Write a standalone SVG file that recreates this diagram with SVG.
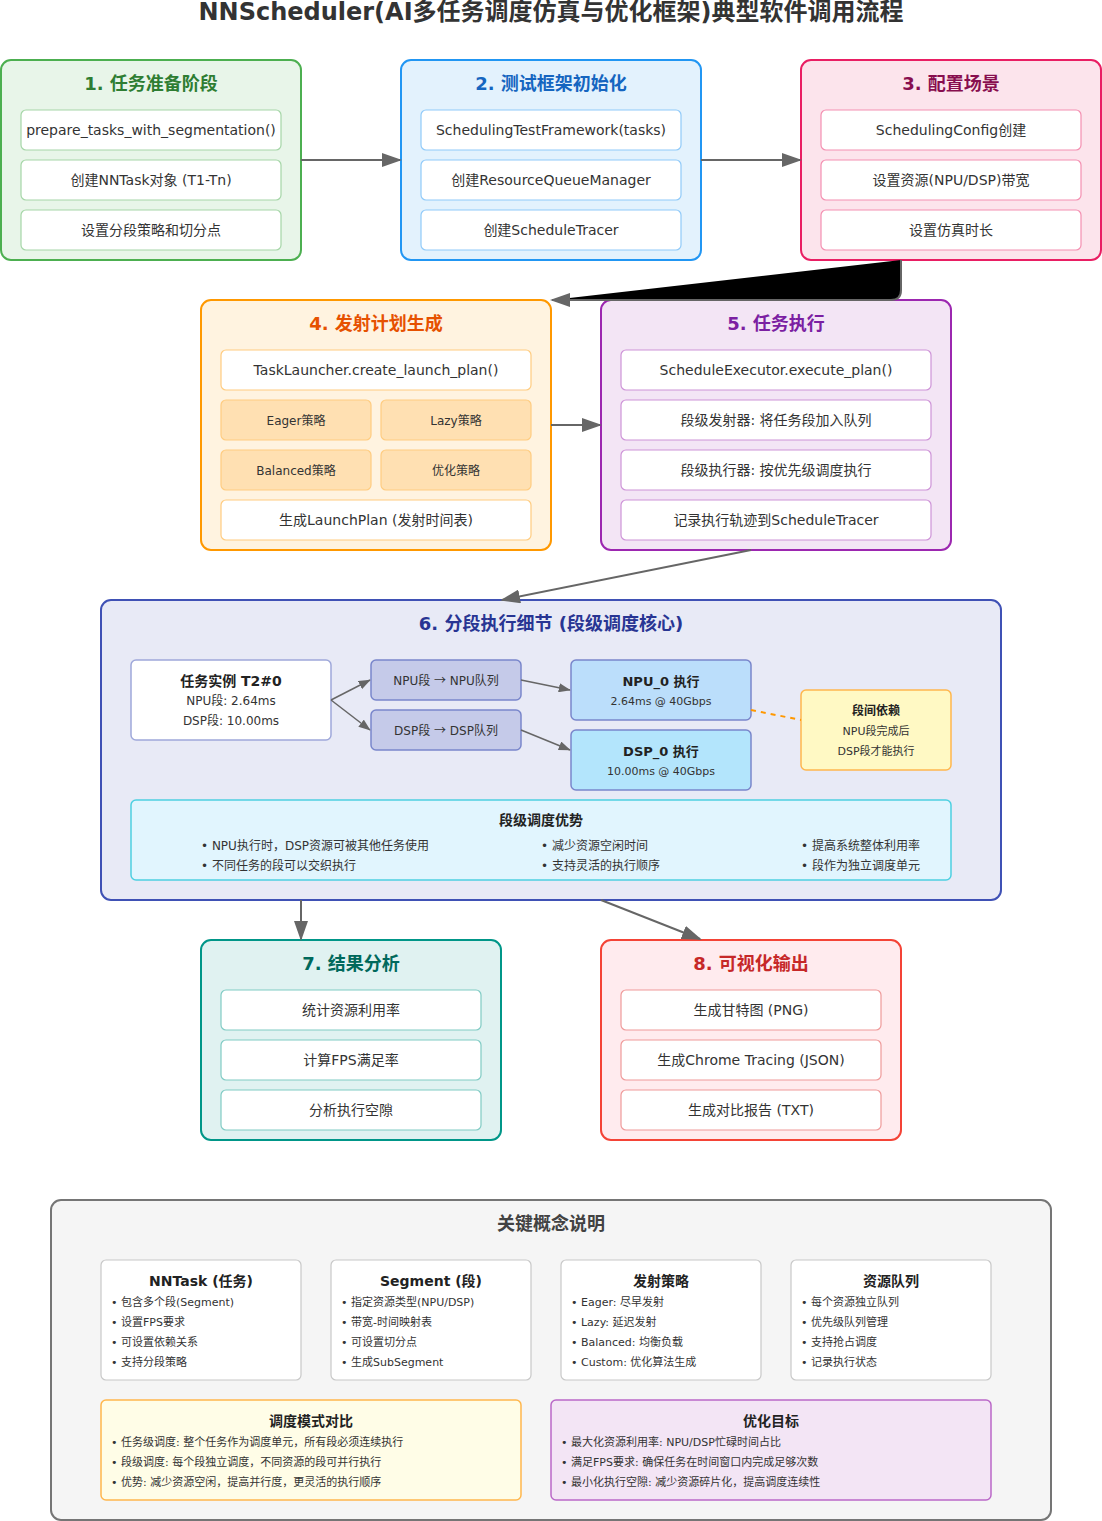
<svg xmlns="http://www.w3.org/2000/svg" width="1102" height="1521" viewBox="0 0 1102 1521">
  <defs>
    <marker id="arrow" markerWidth="10" markerHeight="7" refX="9" refY="3.5" orient="auto">
      <polygon points="0 0, 10 3.5, 0 7" fill="#666"/>
    </marker>
    <marker id="arrow-sm" markerWidth="8" markerHeight="6" refX="7.5" refY="3" orient="auto">
      <polygon points="0 0, 8 3, 0 6" fill="#666"/>
    </marker>
  </defs>
  <style>
    text { font-family: "DejaVu Sans", "Noto Sans CJK SC", sans-serif; fill: #333; }
    .cjk { font-family: "Noto Sans CJK SC", sans-serif; }
    .title { font-size: 24px; font-weight: bold; text-anchor: middle; fill: #333; }
    .stage-title { font-size: 18px; font-weight: bold; text-anchor: middle; }
    .item { font-size: 14px; text-anchor: middle; }
    .small { font-size: 12px; text-anchor: middle; }
    .tiny { font-size: 11px; text-anchor: middle; }
    .bold14 { font-size: 14px; font-weight: bold; text-anchor: middle; fill: #222; }
    .bold13 { font-size: 13px; font-weight: bold; text-anchor: middle; fill: #222; }
    .bold12 { font-size: 12px; font-weight: bold; text-anchor: middle; fill: #222; }
    .bullet { font-size: 11px; }
    .bullet12 { font-size: 12px; }
    .inner { fill: #ffffff; stroke-width: 1.2; }
    .conn { stroke: #666; stroke-width: 2; fill: none; }
    .conn-sm { stroke: #666; stroke-width: 1.5; fill: none; }
    .card { fill: #ffffff; stroke: #c8c8c8; stroke-width: 1.2; }
  </style>

  <!-- heading -->
  <text class="title" x="551" y="20">NNScheduler(AI多任务调度仿真与优化框架)典型软件调用流程</text>

  <!-- stage 1 -->
  <g id="stage1">
    <rect x="1" y="60" width="300" height="200" rx="10" fill="#e8f5e9" stroke="#4caf50" stroke-width="2"/>
    <text class="stage-title" x="151" y="90" style="fill:#2e7d32">1. 任务准备阶段</text>
    <rect class="inner" x="21" y="110" width="260" height="40" rx="5" stroke="#a5d6a7"/>
    <text class="item" x="151" y="135">prepare_tasks_with_segmentation()</text>
    <rect class="inner" x="21" y="160" width="260" height="40" rx="5" stroke="#a5d6a7"/>
    <text class="item" x="151" y="185">创建NNTask对象 (T1-Tn)</text>
    <rect class="inner" x="21" y="210" width="260" height="40" rx="5" stroke="#a5d6a7"/>
    <text class="item" x="151" y="235">设置分段策略和切分点</text>
  </g>

  <!-- stage 2 -->
  <g id="stage2">
    <rect x="401" y="60" width="300" height="200" rx="10" fill="#e3f2fd" stroke="#2196f3" stroke-width="2"/>
    <text class="stage-title" x="551" y="90" style="fill:#1565c0">2. 测试框架初始化</text>
    <rect class="inner" x="421" y="110" width="260" height="40" rx="5" stroke="#90caf9"/>
    <text class="item" x="551" y="135">SchedulingTestFramework(tasks)</text>
    <rect class="inner" x="421" y="160" width="260" height="40" rx="5" stroke="#90caf9"/>
    <text class="item" x="551" y="185">创建ResourceQueueManager</text>
    <rect class="inner" x="421" y="210" width="260" height="40" rx="5" stroke="#90caf9"/>
    <text class="item" x="551" y="235">创建ScheduleTracer</text>
  </g>

  <!-- stage 3 -->
  <g id="stage3">
    <rect x="801" y="60" width="300" height="200" rx="10" fill="#fce4ec" stroke="#e91e63" stroke-width="2"/>
    <text class="stage-title" x="951" y="90" style="fill:#880e4f">3. 配置场景</text>
    <rect class="inner" x="821" y="110" width="260" height="40" rx="5" stroke="#f48fb1"/>
    <text class="item" x="951" y="135">SchedulingConfig创建</text>
    <rect class="inner" x="821" y="160" width="260" height="40" rx="5" stroke="#f48fb1"/>
    <text class="item" x="951" y="185">设置资源(NPU/DSP)带宽</text>
    <rect class="inner" x="821" y="210" width="260" height="40" rx="5" stroke="#f48fb1"/>
    <text class="item" x="951" y="235">设置仿真时长</text>
  </g>

  <!-- stage 4 -->
  <g id="stage4">
    <rect x="201" y="300" width="350" height="250" rx="10" fill="#fff3e0" stroke="#ff9800" stroke-width="2"/>
    <text class="stage-title" x="376" y="330" style="fill:#e65100">4. 发射计划生成</text>
    <rect class="inner" x="221" y="350" width="310" height="40" rx="5" stroke="#ffcc80"/>
    <text class="item" x="376" y="375">TaskLauncher.create_launch_plan()</text>
    <rect x="221" y="400" width="150" height="40" rx="5" fill="#ffe0b2" stroke="#ffcc80" stroke-width="1.2"/>
    <text class="small" x="296" y="425">Eager策略</text>
    <rect x="381" y="400" width="150" height="40" rx="5" fill="#ffe0b2" stroke="#ffcc80" stroke-width="1.2"/>
    <text class="small" x="456" y="425">Lazy策略</text>
    <rect x="221" y="450" width="150" height="40" rx="5" fill="#ffe0b2" stroke="#ffcc80" stroke-width="1.2"/>
    <text class="small" x="296" y="475">Balanced策略</text>
    <rect x="381" y="450" width="150" height="40" rx="5" fill="#ffe0b2" stroke="#ffcc80" stroke-width="1.2"/>
    <text class="small" x="456" y="475">优化策略</text>
    <rect class="inner" x="221" y="500" width="310" height="40" rx="5" stroke="#ffcc80"/>
    <text class="item" x="376" y="525">生成LaunchPlan (发射时间表)</text>
  </g>

  <!-- stage 5 -->
  <g id="stage5">
    <rect x="601" y="300" width="350" height="250" rx="10" fill="#f3e5f5" stroke="#9c27b0" stroke-width="2"/>
    <text class="stage-title" x="776" y="330" style="fill:#7b1fa2">5. 任务执行</text>
    <rect class="inner" x="621" y="350" width="310" height="40" rx="5" stroke="#ce93d8"/>
    <text class="item" x="776" y="375">ScheduleExecutor.execute_plan()</text>
    <rect class="inner" x="621" y="400" width="310" height="40" rx="5" stroke="#ce93d8"/>
    <text class="item" x="776" y="425">段级发射器: 将任务段加入队列</text>
    <rect class="inner" x="621" y="450" width="310" height="40" rx="5" stroke="#ce93d8"/>
    <text class="item" x="776" y="475">段级执行器: 按优先级调度执行</text>
    <rect class="inner" x="621" y="500" width="310" height="40" rx="5" stroke="#ce93d8"/>
    <text class="item" x="776" y="525">记录执行轨迹到ScheduleTracer</text>
  </g>

  <!-- stage 6: segment-level execution -->
  <g id="stage6">
    <rect x="101" y="600" width="900" height="300" rx="10" fill="#e8eaf6" stroke="#3f51b5" stroke-width="2"/>
    <text class="stage-title" x="551" y="630" style="fill:#283593">6. 分段执行细节 (段级调度核心)</text>

    <g id="task-instance">
      <rect x="131" y="660" width="200" height="80" rx="5" fill="#ffffff" stroke="#9fa8da" stroke-width="1.5"/>
      <text class="bold14" x="231" y="686">任务实例 T2#0</text>
      <text class="small" x="231" y="705">NPU段: 2.64ms</text>
      <text class="small" x="231" y="725">DSP段: 10.00ms</text>
    </g>
    <g id="npu-seg">
      <rect x="371" y="660" width="150" height="40" rx="5" fill="#c5cae9" stroke="#7986cb" stroke-width="1.5"/>
      <text class="small" x="446" y="685">NPU段 <tspan class="cjk">→</tspan> NPU队列</text>
    </g>
    <g id="dsp-seg">
      <rect x="371" y="710" width="150" height="40" rx="5" fill="#c5cae9" stroke="#7986cb" stroke-width="1.5"/>
      <text class="small" x="446" y="735">DSP段 <tspan class="cjk">→</tspan> DSP队列</text>
    </g>
    <g id="npu-exec">
      <rect x="571" y="660" width="180" height="60" rx="5" fill="#bbdefb" stroke="#7986cb" stroke-width="1.5"/>
      <text class="bold13" x="661" y="686">NPU_0 执行</text>
      <text class="tiny" x="661" y="705">2.64ms @ 40Gbps</text>
    </g>
    <g id="dsp-exec">
      <rect x="571" y="730" width="180" height="60" rx="5" fill="#b3e5fc" stroke="#7986cb" stroke-width="1.5"/>
      <text class="bold13" x="661" y="756">DSP_0 执行</text>
      <text class="tiny" x="661" y="775">10.00ms @ 40Gbps</text>
    </g>
    <g id="dependency">
      <rect x="801" y="690" width="150" height="80" rx="5" fill="#fff9c4" stroke="#ffb74d" stroke-width="1.5"/>
      <text class="bold12" x="876" y="715">段间依赖</text>
      <text class="tiny" x="876" y="735">NPU段完成后</text>
      <text class="tiny" x="876" y="755">DSP段才能执行</text>
    </g>
    <g id="advantages">
      <rect x="131" y="800" width="820" height="80" rx="5" fill="#e1f5fe" stroke="#4dd0e1" stroke-width="1.5"/>
      <text class="bold14" x="541" y="825">段级调度优势</text>
      <text class="bullet12" x="201" y="850">• NPU执行时，DSP资源可被其他任务使用</text>
      <text class="bullet12" x="201" y="870">• 不同任务的段可以交织执行</text>
      <text class="bullet12" x="541" y="850">• 减少资源空闲时间</text>
      <text class="bullet12" x="541" y="870">• 支持灵活的执行顺序</text>
      <text class="bullet12" x="801" y="850">• 提高系统整体利用率</text>
      <text class="bullet12" x="801" y="870">• 段作为独立调度单元</text>
    </g>
  </g>

  <!-- stage 7 -->
  <g id="stage7">
    <rect x="201" y="940" width="300" height="200" rx="10" fill="#e0f2f1" stroke="#009688" stroke-width="2"/>
    <text class="stage-title" x="351" y="970" style="fill:#00695c">7. 结果分析</text>
    <rect class="inner" x="221" y="990" width="260" height="40" rx="5" stroke="#80cbc4"/>
    <text class="item" x="351" y="1015">统计资源利用率</text>
    <rect class="inner" x="221" y="1040" width="260" height="40" rx="5" stroke="#80cbc4"/>
    <text class="item" x="351" y="1065">计算FPS满足率</text>
    <rect class="inner" x="221" y="1090" width="260" height="40" rx="5" stroke="#80cbc4"/>
    <text class="item" x="351" y="1115">分析执行空隙</text>
  </g>

  <!-- stage 8 -->
  <g id="stage8">
    <rect x="601" y="940" width="300" height="200" rx="10" fill="#ffebee" stroke="#f44336" stroke-width="2"/>
    <text class="stage-title" x="751" y="970" style="fill:#c62828">8. 可视化输出</text>
    <rect class="inner" x="621" y="990" width="260" height="40" rx="5" stroke="#ef9a9a"/>
    <text class="item" x="751" y="1015">生成甘特图 (PNG)</text>
    <rect class="inner" x="621" y="1040" width="260" height="40" rx="5" stroke="#ef9a9a"/>
    <text class="item" x="751" y="1065">生成Chrome Tracing (JSON)</text>
    <rect class="inner" x="621" y="1090" width="260" height="40" rx="5" stroke="#ef9a9a"/>
    <text class="item" x="751" y="1115">生成对比报告 (TXT)</text>
  </g>

  <!-- key concepts panel -->
  <g id="concepts">
    <rect x="51" y="1200" width="1000" height="320" rx="10" fill="#f5f5f5" stroke="#757575" stroke-width="2"/>
    <text class="stage-title" x="551" y="1230" style="fill:#424242">关键概念说明</text>

    <g id="concept-nntask">
      <rect class="card" x="101" y="1260" width="200" height="120" rx="5"/>
      <text class="bold14" x="201" y="1286">NNTask (任务)</text>
      <text class="bullet" x="111" y="1306">• 包含多个段(Segment)</text>
      <text class="bullet" x="111" y="1326">• 设置FPS要求</text>
      <text class="bullet" x="111" y="1346">• 可设置依赖关系</text>
      <text class="bullet" x="111" y="1366">• 支持分段策略</text>
    </g>
    <g id="concept-segment">
      <rect class="card" x="331" y="1260" width="200" height="120" rx="5"/>
      <text class="bold14" x="431" y="1286">Segment (段)</text>
      <text class="bullet" x="341" y="1306">• 指定资源类型(NPU/DSP)</text>
      <text class="bullet" x="341" y="1326">• 带宽-时间映射表</text>
      <text class="bullet" x="341" y="1346">• 可设置切分点</text>
      <text class="bullet" x="341" y="1366">• 生成SubSegment</text>
    </g>
    <g id="concept-launch">
      <rect class="card" x="561" y="1260" width="200" height="120" rx="5"/>
      <text class="bold14" x="661" y="1286">发射策略</text>
      <text class="bullet" x="571" y="1306">• Eager: 尽早发射</text>
      <text class="bullet" x="571" y="1326">• Lazy: 延迟发射</text>
      <text class="bullet" x="571" y="1346">• Balanced: 均衡负载</text>
      <text class="bullet" x="571" y="1366">• Custom: 优化算法生成</text>
    </g>
    <g id="concept-queue">
      <rect class="card" x="791" y="1260" width="200" height="120" rx="5"/>
      <text class="bold14" x="891" y="1286">资源队列</text>
      <text class="bullet" x="801" y="1306">• 每个资源独立队列</text>
      <text class="bullet" x="801" y="1326">• 优先级队列管理</text>
      <text class="bullet" x="801" y="1346">• 支持抢占调度</text>
      <text class="bullet" x="801" y="1366">• 记录执行状态</text>
    </g>
    <g id="concept-modes">
      <rect x="101" y="1400" width="420" height="100" rx="5" fill="#fffde7" stroke="#ffb74d" stroke-width="1.5"/>
      <text class="bold14" x="311" y="1426">调度模式对比</text>
      <text class="bullet" x="111" y="1446">• 任务级调度: 整个任务作为调度单元，所有段必须连续执行</text>
      <text class="bullet" x="111" y="1466">• 段级调度: 每个段独立调度，不同资源的段可并行执行</text>
      <text class="bullet" x="111" y="1486">• 优势: 减少资源空闲，提高并行度，更灵活的执行顺序</text>
    </g>
    <g id="concept-goals">
      <rect x="551" y="1400" width="440" height="100" rx="5" fill="#f3e5f5" stroke="#ba68c8" stroke-width="1.5"/>
      <text class="bold14" x="771" y="1426">优化目标</text>
      <text class="bullet" x="561" y="1446">• 最大化资源利用率: NPU/DSP忙碌时间占比</text>
      <text class="bullet" x="561" y="1466">• 满足FPS要求: 确保任务在时间窗口内完成足够次数</text>
      <text class="bullet" x="561" y="1486">• 最小化执行空隙: 减少资源碎片化，提高调度连续性</text>
    </g>
  </g>

  <!-- connectors -->
  <g id="connectors">
    <line class="conn" x1="301" y1="160" x2="400" y2="160" marker-end="url(#arrow)"/>
    <line class="conn" x1="701" y1="160" x2="800" y2="160" marker-end="url(#arrow)"/>
    <!-- stage 3 to stage 4: rounded elbow, drawn with the default fill -->
    <path d="M 901 260 L 901 290 Q 901 300 891 300 L 552 300" stroke="#666" stroke-width="2" fill="#000" marker-end="url(#arrow)"/>
    <line class="conn" x1="551" y1="425" x2="600" y2="425" marker-end="url(#arrow)"/>
    <line class="conn" x1="751" y1="550" x2="502" y2="600" marker-end="url(#arrow)"/>
    <line class="conn-sm" x1="331" y1="700" x2="370" y2="680" marker-end="url(#arrow-sm)"/>
    <line class="conn-sm" x1="331" y1="700" x2="370" y2="730" marker-end="url(#arrow-sm)"/>
    <line class="conn-sm" x1="521" y1="680" x2="570" y2="690" marker-end="url(#arrow-sm)"/>
    <line class="conn-sm" x1="521" y1="730" x2="570" y2="750" marker-end="url(#arrow-sm)"/>
    <line x1="751" y1="710" x2="801" y2="720" stroke="#ff9800" stroke-width="2" stroke-dasharray="5,5"/>
    <line class="conn" x1="301" y1="900" x2="301" y2="939" marker-end="url(#arrow)"/>
    <line class="conn" x1="601" y1="900" x2="700" y2="939" marker-end="url(#arrow)"/>
  </g>
</svg>
